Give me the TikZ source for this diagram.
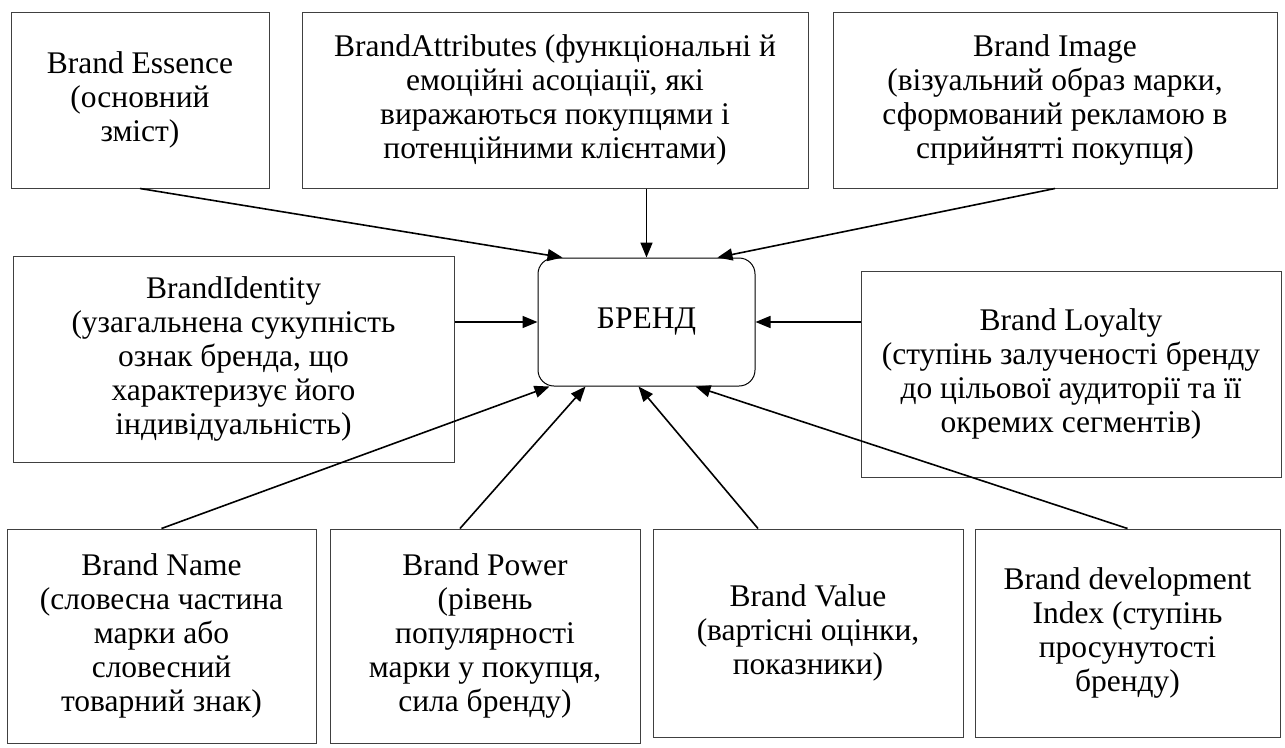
\documentclass[tikz,border=0pt]{standalone}
\usepackage{fontspec}
\setmainfont{Liberation Serif}
\usepackage{tikz}
\usetikzlibrary{positioning, arrows.meta}

\begin{document}
\begin{tikzpicture}[
    x=1pt, y=-1pt,
    textbox/.style={draw=black!75, line width=1pt, align=center, inner sep=0pt,
                    font=\fontsize{31.5}{34}\selectfont},
    brandbox/.style={textbox, draw=black, rounded corners=16pt},
    arr/.style={-{Triangle[length=15pt, width=12pt]}, line width=1.6pt}
]
\useasboundingbox (0,0) rectangle (1285,747);

% top row
\node[textbox, minimum width=258pt, minimum height=176pt] (essence) at (140,100)
    {Brand Essence\\(основний\\зміст)};
\node[textbox, minimum width=506pt, minimum height=176pt] (attrib) at (555,100)
    {BrandAttributes (функціональні й\\емоційні асоціації, які\\виражаються покупцями і\\потенційними клієнтами)};
\node[textbox, minimum width=444pt, minimum height=176pt] (image) at (1055,100)
    {Brand Image\\(візуальний образ марки,\\сформований рекламою в\\сприйнятті покупця)};

% middle row
\node[textbox, minimum width=441pt, minimum height=206pt] (identity) at (233.5,359)
    {BrandIdentity\\(узагальнена сукупність\\ознак бренда, що\\характеризує його\\індивідуальність)};
\node[brandbox, minimum width=217pt, minimum height=128pt] (brand) at (646.5,322)
    {БРЕНД};
\node[textbox, minimum width=420pt, minimum height=206pt] (loyalty) at (1071,374)
    {Brand Loyalty\\(ступінь залученості бренду\\до цільової аудиторії та її\\окремих сегментів)};

% bottom row
\node[textbox, minimum width=309pt, minimum height=214pt] (name) at (161.5,636)
    {Brand Name\\(словесна частина\\марки або\\словесний\\товарний знак)};
\node[textbox, minimum width=310pt, minimum height=214pt] (power) at (485,636)
    {Brand Power\\(рівень\\популярності\\марки у покупця,\\сила бренду)};
\node[textbox, minimum width=310pt, minimum height=208pt] (value) at (808,633)
    {Brand Value\\(вартісні оцінки,\\показники)};
\node[textbox, minimum width=305pt, minimum height=208pt] (devindex) at (1127.5,633)
    {Brand development\\Index (ступінь\\просунутості\\бренду)};

% arrows into the brand
\draw[arr] (essence.south) -- ([xshift=25pt]brand.north west);
\draw[arr] (attrib.south -| brand.north) -- (brand.north);
\draw[arr] (image.south) -- ([xshift=-38pt]brand.north east);
\draw[arr] (identity.east |- brand.west) -- (brand.west);
\draw[arr] (loyalty.west |- brand.east) -- (brand.east);
\draw[arr] (name.north) -- ([xshift=12pt]brand.south west);
\draw[arr] ([xshift=-25pt]power.north) -- ([xshift=48pt]brand.south west);
\draw[arr] ([xshift=-50pt]value.north) -- ([xshift=-8pt]brand.south);
\draw[arr] (devindex.north) -- ([xshift=-60pt]brand.south east);
\end{tikzpicture}
\end{document}
